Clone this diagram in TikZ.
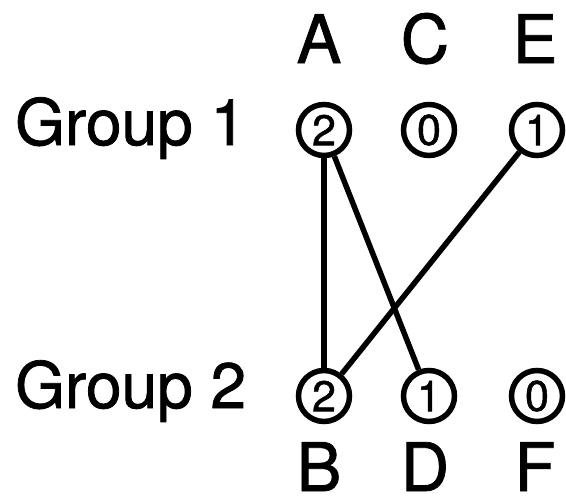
\documentclass[tikz,border=0pt]{standalone}
\usepackage{fontspec}
\setmainfont{TeX Gyre Heros}[FakeBold=1.2]
\begin{document}
\begin{tikzpicture}[x=1pt,y=-1pt,
  vert/.style={circle,draw,line width=5.5pt,minimum size=51pt,inner sep=0pt,font=\fontsize{43}{43}\selectfont},
  lbl/.style={anchor=base,inner sep=0pt,font=\fontsize{67}{67}\selectfont},
  grp/.style={anchor=base west,inner sep=0pt,font=\fontsize{64}{64}\selectfont},
  edge/.style={line width=5.5pt}]
\useasboundingbox (0,0) rectangle (566,498);
\node[vert] (a) at (324,130) {2};
\node[vert] (c) at (429,130) {0};
\node[vert] (e) at (537,130) {1};
\node[vert] (b) at (324,396) {2};
\node[vert] (d) at (429,396) {1};
\node[vert] (f) at (537,396) {0};
\node[lbl] (la) at (319,63) {A};
\node[lbl] (lc) at (425,63) {C};
\node[lbl] (le) at (535,63) {E};
\node[lbl] (lb) at (319,491) {B};
\node[lbl] (ld) at (425,491) {D};
\node[lbl] (lf) at (535,491) {F};
\node[grp] (g1) at (15,145) {Group 1};
\node[grp] (g2) at (15,408) {Group 2};
\draw[edge] (a) -- (b);
\draw[edge] (a) -- (d);
\draw[edge] (e) -- (b);
\end{tikzpicture}
\end{document}
